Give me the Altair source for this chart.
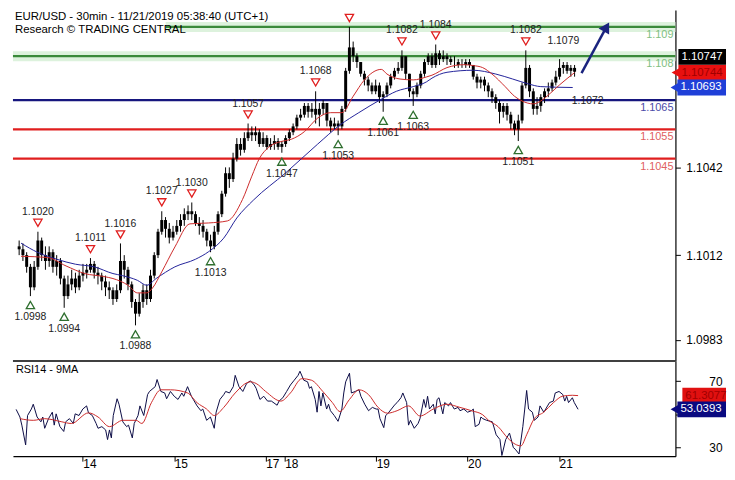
import altair as alt
import pandas as pd

# ---------------- data ----------------
# x = 30-min bar index, 0 = 14 Nov 00:00 (weekend removed); one candle per hour
BAR_T = list(range(-36, 261, 2))
FIRST_OPEN_PIPS = 15
# prices in pips above 1.1000
CLOSE_PIPS = [14, 12, 8, 1, 8, 17, 12, 10, 13, 8, 10, 4, -2, 2, 4, 1, 5, 6,
              7, 9, 6, 5, 3, 1, 0, -3, 0, 10, 7, 2, -4, -8, -4, 0, -3, 5, 12, 20, 24, 21, 18, 20,
              22, 24, 26, 27, 26, 23, 22, 20, 17, 15, 20, 26, 33, 40, 38, 45, 50, 48, 52, 54, 53, 54, 50, 52,
              49, 50, 51, 49, 50,
              52, 54, 56, 59, 60, 63, 61, 62, 60, 62, 64, 58, 56, 57, 56, 62, 75, 83, 80, 78, 74, 72, 70, 68,
              70, 66, 67, 70, 73, 75, 76, 80, 74, 68, 67, 70, 74, 78, 80, 77, 81, 79, 80, 79, 78, 78, 77, 77,
              78, 77, 73, 71, 72, 70, 68, 66, 64, 61, 63, 60, 57, 55, 58, 70, 76, 68, 62, 63, 66, 68, 69, 71,
              73, 76, 77, 75, 76, 74.7]
HIGH_PIPS = [17, 16, 13, 9, 10, 20, 18, 15, 15, 14, 12, 11, 5, 5, 7, 6, 7, 9,
             9, 11, 10, 8, 6, 5, 3, 1, 2, 16, 12, 8, 3, -3, -1, 2, 2, 7, 13, 21, 27, 25, 23, 22,
             24, 26, 28, 29, 30, 27, 25, 24, 21, 19, 22, 27, 34, 42, 42, 47, 52, 52, 54, 57, 56, 56, 55, 54,
             53, 52, 53, 52, 51,
             53, 55, 57, 60, 62, 64, 64, 64, 68, 64, 65, 64, 59, 59, 58, 63, 76, 90, 85, 81, 78, 75, 73, 71,
             72, 71, 68, 71, 74, 76, 78, 82, 80, 74, 69, 71, 75, 79, 81, 81, 84, 82, 82, 81, 80, 80, 79, 79,
             79, 79, 77, 74, 73, 73, 71, 69, 67, 65, 64, 64, 61, 58, 60, 71, 82, 77, 69, 66, 67, 69, 71, 72,
             75, 79, 78, 78, 77, 77]
LOW_PIPS = [12, 10, 6, -2, 0, 7, 10, 7, 8, 6, 5, 2, -6, -3, 0, -1, 0, 3,
            4, 6, 4, 2, 0, -2, -3, -5, -4, -1, 4, 0, -6, -12, -9, -6, -5, -4, 4, 11, 19, 18, 16, 17,
            19, 20, 22, 24, 24, 22, 19, 18, 15, 13, 14, 19, 25, 32, 35, 37, 44, 46, 47, 51, 51, 51, 49, 49,
            48, 48, 48, 48, 47,
            49, 51, 53, 55, 58, 59, 59, 59, 57, 56, 60, 56, 54, 55, 53, 55, 61, 74, 78, 76, 73, 70, 68, 67,
            67, 64, 61, 66, 69, 72, 74, 75, 72, 66, 63, 66, 69, 73, 77, 76, 76, 77, 78, 77, 77, 76, 76, 76,
            76, 76, 72, 69, 69, 68, 66, 64, 62, 57, 59, 58, 55, 53, 51, 57, 69, 66, 60, 60, 61, 64, 66, 68,
            70, 72, 74, 74, 73, 73]

RED_MA_T = [-35, -21, -11, -1, 9, 14, 22, 27, 32, 35, 40, 47, 55, 65, 75, 83, 88, 92, 97, 104,
            109, 116, 123, 130, 136, 142, 148, 157, 160, 167, 174, 181, 184, 192, 201, 206, 211, 216, 223, 228,
            232, 238, 242, 247, 252, 260]
RED_MA_PIPS = [11.6, 11.2, 8.3, 5.7, 4.7, 4.0, 1.7, -0.9, -0.9, 0.7, 6.3, 14.8, 22.7, 23.0, 23.7, 31.0, 39.0, 45.0, 48.9, 50.9,
               51.6, 54.2, 58.8, 60.7, 60.7, 66.3, 71.9, 75.5, 73.9, 72.2, 71.9, 72.9, 73.5, 76.1, 77.1, 76.8, 76.1, 73.9, 69.6, 66.3,
               64.7, 63.7, 64.7, 67.3, 70.2, 74.4]
BLUE_MA_T = [-35, -26, -16, -6, 4, 14, 19, 27, 32, 37, 47, 58, 65, 73, 80, 89, 106, 123, 135, 145,
             157, 165, 174, 181, 184, 192, 206, 218, 227, 235, 242, 259]
BLUE_MA_PIPS = [16.1, 12.9, 10.6, 8.9, 8.0, 5.7, 5.0, 3.4, 1.7, 4.0, 8.0, 10.6, 13.2, 17.8, 24.7, 30.9, 40.1, 49.9, 56.5, 60.7,
                65.3, 68.0, 69.6, 71.2, 72.5, 74.5, 75.2, 73.9, 72.2, 70.6, 69.6, 69.3]

LEVELS = [1.109, 1.108, 1.1065, 1.1055, 1.1045]
LEVEL_TEXT = ["1.109", "1.108", "1.1065", "1.1055", "1.1045"]
LEVEL_KIND = ["res", "res", "pivot", "sup", "sup"]

HIGH_T = [-26, 2, 18, 40, 56, 86, 122, 140, 168, 186, 234]
HIGH_P = [1.1020, 1.1011, 1.1016, 1.1027, 1.1030, 1.1057, 1.1068, 1.1090, 1.1082, 1.1084, 1.1082]
LOW_T = [-30, -12, 26, 66, 104, 134, 158, 174, 230]
LOW_P = [1.0998, 1.0994, 1.0988, 1.1013, 1.1047, 1.1053, 1.1061, 1.1063, 1.1051]
NOTE_T = [254, 267]
NOTE_P = [1.1079, 1.1072]
ARROW_T = [263.7, 277]
ARROW_P = [1.10742, 1.1090]

PRICE_TICKS = [1.0983, 1.1012, 1.1042]
RSI_TICKS = [30, 50, 70]
DAY_LABELS = ["14", "15", "17", "18", "19", "20", "21"]
DAY_START = [0, 48, 96, 106, 154, 202, 250]

RSI_T = [-35, -33, -32, -30, -29, -27, -26, -24, -22, -21,
         -20, -18, -16, -15, -14, -12, -10, -9, -7, -5,
         -4, -2, 0, 2, 3, 5, 7, 8, 10, 12,
         13, 14, 15, 16, 18, 19, 21, 23, 24, 26,
         27, 29, 30, 32, 34, 35, 38, 39, 41, 43,
         44, 46, 48, 50, 52, 53, 55, 57, 58, 60,
         62, 63, 65, 67, 69, 70, 72, 74, 75, 77,
         79, 80, 82, 84, 86, 88, 90, 91, 93, 95,
         97, 99, 102, 103, 105, 107, 109, 111, 113, 114,
         116, 118, 119, 120, 122, 123, 124, 125, 126, 128,
         129, 130, 132, 134, 136, 137, 138, 140, 141, 143,
         145, 146, 148, 150, 152, 154, 155, 156, 158, 159,
         160, 162, 164, 165, 167, 168, 170, 171, 172, 174,
         176, 177, 179, 180, 181, 182, 184, 185, 186, 187,
         189, 190, 192, 193, 195, 197, 198, 200, 202, 204,
         205, 206, 208, 209, 210, 212, 215, 217, 219, 220,
         222, 224, 226, 227, 229, 231, 232, 233, 234, 236,
         237, 239, 240, 242, 243, 245, 247, 248, 250, 252,
         253, 254, 255, 257, 258, 260]
RSI_V = [53, 48.4, 43.5, 31.6, 49.3, 53.2, 56.1, 48.4, 45.5, 48.4,
         41.6, 47.4, 51.3, 43.5, 50.3, 42.6, 39.7, 45.5, 47.4, 44.5,
         50.3, 49.3, 53.2, 55.1, 50.9, 49.3, 44.5, 41.6, 42.6, 40.6,
         34.8, 40.6, 35.8, 49.3, 59.4, 56.1, 45.5, 42.6, 43.5, 35.8,
         44.5, 49.3, 55.1, 49.3, 61.9, 63.8, 66.7, 71, 63.8, 62.9,
         59.4, 63.8, 60.9, 59, 62.9, 60.9, 66.7, 60.9, 59, 55.1,
         52.2, 53.2, 46.4, 48.4, 41.6, 51.3, 59, 61.9, 63.8, 62.9,
         66.7, 73.5, 66.7, 63.8, 68.6, 70.2, 67.7, 65.7, 59, 60.9,
         58, 58, 55.5, 58, 60, 63.8, 67.7, 70.6, 73.5, 76,
         70.6, 69.6, 65.7, 66.7, 59, 51.3, 63.8, 55.1, 62.9, 53.2,
         56.1, 52.2, 49.3, 45.8, 53.2, 62.9, 69.6, 74.8, 62.9, 63.8,
         64.8, 60.9, 56.1, 52.2, 54.2, 53.2, 53.2, 47.4, 42, 49.3,
         50.3, 53.2, 56.1, 57.1, 60, 62.9, 57.1, 43.5, 46.4, 41.6,
         44.5, 47.4, 59, 54.2, 60.9, 53.2, 56.1, 50.3, 59, 60,
         50.3, 57.1, 55.1, 57.1, 53.2, 54.2, 52.2, 53.2, 51.3, 52.2,
         53.2, 42.6, 44, 48.4, 47.4, 46.4, 45.5, 37.7, 34.8, 25.2,
         34.8, 38.7, 30, 29, 26.1, 42.6, 53.2, 64.4, 53.2, 51.3,
         46.4, 48.4, 55.1, 51.3, 53.2, 57.1, 58, 62.9, 63.8, 61.9,
         58, 60.9, 57.1, 60, 57.1, 53.04]
RSIMA_T = [-33, -26, -20, -11, -6, 3, 8, 14, 21, 28, 31, 36, 41, 46, 55, 60, 65, 69, 74, 80,
           88, 91, 96, 104, 109, 115, 120, 126, 131, 135, 140, 145, 150, 155, 160, 165, 171, 177, 184, 191,
           198, 204, 210, 213, 218, 223, 227, 230, 233, 237, 242, 247, 252, 257, 260]
RSIMA_V = [47.4, 46.4, 47.4, 45.5, 44.5, 50.9, 48.4, 42.6, 46.4, 46.4, 44.5, 57, 64.8, 64.8, 62.9, 57, 53.2, 49.3, 54.2, 62.9,
           69.6, 68.6, 63.8, 58, 62.9, 71.5, 70.6, 63.8, 57.1, 51.7, 59, 64.8, 61.9, 54.2, 50.7, 52.2, 55.1, 49, 53.2, 56.1,
           54.2, 52.2, 49.7, 46.4, 42.6, 35.8, 32, 31, 37.7, 47.4, 51.3, 57, 61, 61.5, 61.3]

TITLE_1 = "EUR/USD - 30min - 11/21/2019 05:38:40 (UTC+1)"
TITLE_2 = "Research \u00a9 TRADING CENTRAL"
RSI_TITLE = "RSI14 - 9MA"

# ---------------- layout / style ----------------
FONT = "Liberation Sans"
W, HP, HR = 668, 354, 96
TOTAL_W = 719
X_DOM = [-36.66, 311.1]
P_DOM = [1.097582, 1.109582]
R_DOM = [24.78, 82.17]

GREEN, GREEN_HALO, GREEN_TXT = "#3a8a3a", "#ddf2dd", "#7fc07f"
NAVY, NAVY_TXT = "#16167e", "#4a4aa8"
RED, RED_TXT = "#e01e1e", "#e06060"
MA_RED, MA_BLUE = "#cc2a2a", "#22229a"


def px(p):
    return 1.1 + p / 10000.0


xsc = alt.Scale(domain=X_DOM, nice=False, zero=False)
psc = alt.Scale(domain=P_DOM, nice=False, zero=False)
rsc = alt.Scale(domain=R_DOM, nice=False, zero=False)

p_axis = alt.Axis(orient="right", values=PRICE_TICKS, format=".4f", title=None, tickSize=5,
                  labelAlign="right", labelBaseline="middle", labelPadding=42, labelFontSize=12,
                  minExtent=51, maxExtent=51, grid=False)
r_axis = alt.Axis(orient="right", values=RSI_TICKS, title=None, tickSize=5,
                  labelExpr="datum.value == 50 ? '' : datum.label",
                  labelAlign="right", labelBaseline="middle", labelPadding=42, labelFontSize=12,
                  minExtent=51, maxExtent=51, grid=False)
label_expr = "''"
for v, lab in reversed(list(zip(DAY_START, DAY_LABELS))):
    label_expr = f"datum.value == {v} ? ' {lab}' : ({label_expr})"
x_axis = alt.Axis(orient="bottom", values=DAY_START, labelExpr=label_expr, title=None, tickSize=5,
                  labelAlign="left", labelBaseline="top", labelPadding=-3, labelFontSize=12,
                  labelOverlap=False, labelFlush=False, grid=False)

X = alt.X("t:Q", scale=xsc, axis=None)
Xr = alt.X("t:Q", scale=xsc, axis=x_axis)


def Yp(field):
    return alt.Y(field, scale=psc, axis=p_axis)


def Yr(field):
    return alt.Y(field, scale=rsc, axis=r_axis)


closes = [px(c) for c in CLOSE_PIPS]
opens = [px(FIRST_OPEN_PIPS)] + closes[:-1]
candles = pd.DataFrame({
    "t": BAR_T, "open": opens, "close": closes,
    "high": [px(h) for h in HIGH_PIPS], "low": [px(l) for l in LOW_PIPS],
})

red_ma = pd.DataFrame({"t": RED_MA_T, "p": [px(v) for v in RED_MA_PIPS]})
blue_ma = pd.DataFrame({"t": BLUE_MA_T, "p": [px(v) for v in BLUE_MA_PIPS]})
lev = pd.DataFrame({"level": LEVELS, "text": LEVEL_TEXT, "kind": LEVEL_KIND})
highs = pd.DataFrame({"t": HIGH_T, "p": HIGH_P, "label": [f"{v:.4f}" for v in HIGH_P]})
lows = pd.DataFrame({"t": LOW_T, "p": LOW_P, "label": [f"{v:.4f}" for v in LOW_P]})
notes = pd.DataFrame({"t": NOTE_T, "p": NOTE_P, "label": [f"{v:.4f}" for v in NOTE_P]})
arrow = pd.DataFrame({"t": ARROW_T, "p": ARROW_P})
rsi = pd.DataFrame({"t": RSI_T, "v": RSI_V})
rsima = pd.DataFrame({"t": RSIMA_T, "v": RSIMA_V})
one = pd.DataFrame({"a": [0]})

kind_color = {"res": GREEN, "pivot": NAVY, "sup": RED}
kind_txt = {"res": GREEN_TXT, "pivot": NAVY_TXT, "sup": RED_TXT}

layers = []
# halos around resistance lines
layers.append(alt.Chart(lev).transform_filter(alt.datum.kind == "res")
              .mark_rule(color=GREEN_HALO, strokeWidth=10).encode(y=Yp("level:Q")))
for k in ["res", "pivot", "sup"]:
    layers.append(alt.Chart(lev).transform_filter(alt.datum.kind == k)
                  .mark_rule(color=kind_color[k], strokeWidth=2.2).encode(y=Yp("level:Q")))
# title backdrop + titles
layers.append(alt.Chart(one).mark_rect(color="white").encode(
    x=alt.value(0), x2=alt.value(154), y=alt.value(0), y2=alt.value(27)))
layers.append(alt.Chart(pd.DataFrame({"text": [TITLE_1]})).mark_text(
    align="left", baseline="middle", font=FONT, fontSize=11.5, color="black").encode(
    x=alt.value(2), y=alt.value(7), text="text:N"))
layers.append(alt.Chart(pd.DataFrame({"text": [TITLE_2]})).mark_text(
    align="left", baseline="middle", font=FONT, fontSize=11.5, color="black").encode(
    x=alt.value(2), y=alt.value(20), text="text:N"))
# candles
layers.append(alt.Chart(candles).mark_rule(color="black", strokeWidth=1).encode(
    x=X, y=Yp("low:Q"), y2="high:Q"))
layers.append(alt.Chart(candles).mark_bar(width=3, color="black").encode(
    x=X, y=Yp("open:Q"), y2="close:Q"))
# moving averages
layers.append(alt.Chart(blue_ma).mark_line(color=MA_BLUE, strokeWidth=1, interpolate="monotone").encode(x=X, y=Yp("p:Q")))
layers.append(alt.Chart(red_ma).mark_line(color=MA_RED, strokeWidth=1, interpolate="monotone").encode(x=X, y=Yp("p:Q")))
# pivots
layers.append(alt.Chart(highs).mark_point(shape="triangle-down", filled=False, color=RED, size=70,
                                          strokeWidth=1.3, yOffset=-9, opacity=1).encode(x=X, y=Yp("p:Q")))
layers.append(alt.Chart(highs).mark_text(dy=-20, font=FONT, fontSize=10.5, color="#222", clip=True).encode(
    x=X, y=Yp("p:Q"), text="label:N"))
layers.append(alt.Chart(lows).mark_point(shape="triangle-up", filled=False, color="#2f6f2f", size=70,
                                         strokeWidth=1.3, yOffset=9, opacity=1).encode(x=X, y=Yp("p:Q")))
layers.append(alt.Chart(lows).mark_text(dy=21, font=FONT, fontSize=10.5, color="#222", clip=True).encode(
    x=X, y=Yp("p:Q"), text="label:N"))
layers.append(alt.Chart(notes).transform_filter(alt.datum.t < 260).mark_text(
    dy=-18, font=FONT, fontSize=10.5, color="#222").encode(x=X, y=Yp("p:Q"), text="label:N"))
layers.append(alt.Chart(notes).transform_filter(alt.datum.t > 260).mark_text(
    dy=22, font=FONT, fontSize=10.5, color="#222").encode(x=X, y=Yp("p:Q"), text="label:N"))
# level labels
for k in ["res", "pivot", "sup"]:
    layers.append(alt.Chart(lev).transform_filter(alt.datum.kind == k).mark_text(
        align="right", baseline="middle", dy=8, font=FONT, fontSize=11, color=kind_txt[k]).encode(
        x=alt.value(W - 2), y=Yp("level:Q"), text="text:N"))
# arrow
layers.append(alt.Chart(arrow).mark_line(color="#1a237e", strokeWidth=2.5).encode(x=X, y=Yp("p:Q")))
layers.append(alt.Chart(arrow).transform_filter(alt.datum.t > 270).mark_point(
    shape="triangle-up", filled=True, color="#1a237e", size=150, angle=30, opacity=1).encode(x=X, y=Yp("p:Q")))


def tag(value, text, bg, fg, yfn, x0, dy=0, pointer=False):
    df = pd.DataFrame({"v": [value], "text": [text]})
    y = yfn("v:Q")
    out = [alt.Chart(df).mark_rect(color=bg, yOffset=dy - 8, y2Offset=dy + 8).encode(
        x=alt.value(x0), x2=alt.value(TOTAL_W), y=y, y2="v:Q")]
    if pointer:
        out.append(alt.Chart(df).mark_point(shape="triangle-left", filled=True, color=bg, size=80,
                                            yOffset=dy, opacity=1).encode(x=alt.value(x0 - 3), y=y))
    out.append(alt.Chart(df).mark_text(align="left", baseline="middle", dy=dy, font=FONT, fontSize=11.5,
                                       color=fg).encode(x=alt.value(x0 + 3), y=y, text="text:N"))
    return out


layers += tag(1.10744, "1.10744", "#e81010", "#a00000", Yp, W + 3, 0, True)
layers += tag(1.10693, "1.10693", "#1f3fd8", "white", Yp, W + 2, 0, True)
layers += tag(1.10747, "1.10747", "black", "white", Yp, W + 3, -15, False)

price = alt.layer(*layers).properties(width=W, height=HP)

# ---------------- RSI panel ----------------
rl = []
rl.append(alt.Chart(rsi).mark_line(color="#0b0b45", strokeWidth=1).encode(x=Xr, y=Yr("v:Q")))
rl.append(alt.Chart(rsima).mark_line(color=MA_RED, strokeWidth=1, interpolate="monotone").encode(
    x=Xr, y=Yr("v:Q")))
rl.append(alt.Chart(one).mark_rule(color="black", strokeWidth=1.5).encode(
    x=alt.value(0), x2=alt.value(W), y=alt.value(0)))
rl.append(alt.Chart(pd.DataFrame({"text": [RSI_TITLE]})).mark_text(
    align="left", baseline="middle", font=FONT, fontSize=11, color="black").encode(
    x=alt.value(3), y=alt.value(9), text="text:N"))
rl += tag(61.3, "61.3077", "#e01010", "#a00000", Yr, W + 7, 0, False)
rl += tag(53.04, "53.0393", "#0a0a80", "white", Yr, W + 2, 0, True)

rsi_panel = alt.layer(*rl).properties(width=W, height=HR)

chart = alt.vconcat(price, rsi_panel, spacing=0, bounds="flush", padding=0).properties(
    background="white"
).configure_view(stroke=None).configure_axis(
    labelFont=FONT, labelColor="black", domainColor="black", tickColor="black", domainWidth=1.2
)

chart.save("out.html", embed_options={"renderer": "svg", "actions": False})
